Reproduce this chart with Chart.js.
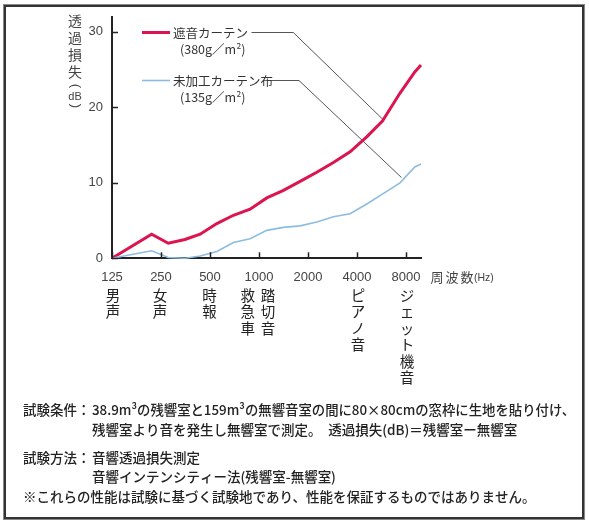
<!DOCTYPE html>
<html><head><meta charset="utf-8">
<script src="https://cdn.jsdelivr.net/npm/chart.js@4.4.1/dist/chart.umd.min.js"></script>
<style>html,body{margin:0;padding:0;background:#fff;}canvas{display:block;}</style>
</head><body>
<canvas id="c" width="589" height="526"></canvas>
<script>
// ---- data ----
const freqHz = [125, 219, 277, 351, 435, 551, 697, 882, 1117, 1414, 1790, 2266, 2867, 3630, 4595, 5737, 7360, 9071, 9900];
const soundproofCurtain = [0, 3.2, 2.0, 2.5, 3.2, 4.6, 5.7, 6.5, 8.0, 9.0, 10.2, 11.4, 12.7, 14.1, 16.1, 18.2, 21.9, 24.7, 25.6];
const plainFabric = [0, 1.0, 0.1, 0, 0.3, 0.9, 2.1, 2.6, 3.7, 4.1, 4.3, 4.8, 5.5, 5.9, 7.2, 8.5, 10.0, 12.1, 12.5];
const xTickValues = [125, 250, 500, 1000, 2000, 4000, 8000];
const yTickValues = [0, 10, 20, 30];
const seriesNames = ['遮音カーテン', '未加工カーテン布'];
const seriesSubNames = ['(380g／m²)', '(135g／m²)'];
const leaderTargetsHz = [5777, 7515];
const leaderTargetsDb = [18.4, 10.7];
const sourceFreqs = [125, 243, 490, 840, 1120, 4000, 8000];
const sourceLabels = ['男声', '女声', '時報', '救急車', '踏切音', 'ピアノ音', 'ジェット機音'];
const yTitleChars = ['透', '過', '損', '失'];
const xTitle = '周波数';
const xUnit = '(Hz)';
const noteLines = [
  ['試験条件：', '38.9m³の残響室と159m³の無響音室の間に80×80cmの窓枠に生地を貼り付け、'],
  ['', '残響室より音を発生し無響室で測定。　透過損失(dB)＝残響室ー無響室'],
  ['試験方法：', '音響透過損失測定'],
  ['', '音響インテンシティー法(残響室-無響室)'],
  ['※これらの性能は試験に基づく試験地であり、性能を保証するものではありません。', '']
];

const JP = '"Noto Sans CJK JP", sans-serif';
const RED = '#dc1450';
const BLUE = '#8cbde0';

const deco = {
  id: 'deco',
  beforeDraw(chart) {
    const ctx = chart.ctx;
    ctx.save();
    ctx.fillStyle = '#fff';
    ctx.fillRect(0, 0, chart.width, chart.height);
    ctx.restore();
  },
  beforeDatasetsDraw(chart) {
    const {ctx, scales: {x, y}} = chart;
    ctx.save();
    ctx.strokeStyle = '#555';
    ctx.lineWidth = 1;
    const starts = [[251.5, 293.3, 32.5], [268, 299, 80.5]];
    starts.forEach((s, i) => {
      ctx.beginPath();
      ctx.moveTo(s[0], s[2]);
      ctx.lineTo(s[1], s[2]);
      ctx.lineTo(x.getPixelForValue(leaderTargetsHz[i]), y.getPixelForValue(leaderTargetsDb[i]));
      ctx.stroke();
    });
    ctx.restore();
  },
  afterDraw(chart) {
    const {ctx, scales: {x, y}, chartArea: a} = chart;
    ctx.save();
    // inward tick marks
    ctx.strokeStyle = '#222';
    ctx.lineWidth = 1.5;
    xTickValues.forEach(v => {
      const px = Math.round(x.getPixelForValue(v)) + 0.5;
      ctx.beginPath(); ctx.moveTo(px, a.bottom); ctx.lineTo(px, a.bottom - 6); ctx.stroke();
    });
    yTickValues.forEach(v => {
      const py = Math.round(y.getPixelForValue(v)) + 0.5;
      ctx.beginPath(); ctx.moveTo(a.left, py); ctx.lineTo(a.left + 6, py); ctx.stroke();
    });

    // legend
    ctx.lineCap = 'butt';
    ctx.strokeStyle = RED; ctx.lineWidth = 3;
    ctx.beginPath(); ctx.moveTo(142, 32.5); ctx.lineTo(170, 32.5); ctx.stroke();
    ctx.strokeStyle = BLUE; ctx.lineWidth = 1.6;
    ctx.beginPath(); ctx.moveTo(142, 80.5); ctx.lineTo(170, 80.5); ctx.stroke();
    ctx.fillStyle = '#333';
    ctx.textBaseline = 'middle';
    ctx.textAlign = 'left';
    ctx.font = '12.5px ' + JP;
    ctx.fillText(seriesNames[0], 173, 33);
    ctx.fillText(seriesNames[1], 173, 81);
    ctx.fillText(seriesSubNames[0], 180, 49);
    ctx.fillText(seriesSubNames[1], 180, 97);

    // y title (vertical)
    ctx.fillStyle = '#444';
    ctx.textAlign = 'center';
    ctx.font = '14px ' + JP;
    yTitleChars.forEach((ch, i) => ctx.fillText(ch, 75, 21 + i * 17));
    const rotParen = (ch, cy) => {
      ctx.save();
      ctx.translate(76, cy);
      ctx.rotate(Math.PI / 2);
      ctx.font = '13px "Liberation Sans", sans-serif';
      ctx.fillText(ch, 0, 0);
      ctx.restore();
    };
    rotParen('(', 86);
    ctx.font = '11px "Liberation Sans", sans-serif';
    ctx.fillText('dB', 75, 96.5);
    rotParen(')', 106);

    // x title
    ctx.font = '13px ' + JP;
    ctx.textAlign = 'center';
    [...xTitle].forEach((ch, i) => ctx.fillText(ch, 437 + i * 15, 277));
    ctx.font = '10.5px "Liberation Sans", sans-serif';
    ctx.textAlign = 'left';
    ctx.fillText(xUnit, 474, 278);

    // sound source labels (vertical)
    ctx.fillStyle = '#222';
    ctx.textAlign = 'center';
    ctx.font = '14.5px ' + JP;
    sourceLabels.forEach((lab, i) => {
      const px = x.getPixelForValue(sourceFreqs[i]);
      [...lab].forEach((ch, j) => ctx.fillText(ch, px + 1, 295 + j * 16.5));
    });

    // notes
    ctx.textAlign = 'left';
    ctx.fillStyle = '#222';
    ctx.font = '500 13.5px ' + JP;
    const ys = [410, 430, 458, 477, 497];
    noteLines.forEach((ln, i) => {
      if (ln[0]) ctx.fillText(ln[0], 23, ys[i]);
      if (ln[1]) ctx.fillText(ln[1], 92, ys[i], 575 - 92);
    });

    // outer frame
    ctx.strokeStyle = '#888';
    ctx.lineWidth = 1;
    ctx.strokeRect(3.5, 4.5, 581, 515);
    ctx.strokeStyle = '#333';
    ctx.lineWidth = 2;
    ctx.strokeRect(5, 6, 578, 512);
    ctx.restore();
  }
};

function pts(vals) { return freqHz.map((f, i) => ({x: f, y: vals[i]})); }

new Chart(document.getElementById('c'), {
  type: 'line',
  data: {
    datasets: [
      {label: seriesNames[1], data: pts(plainFabric), borderColor: BLUE, borderWidth: 1.6, pointRadius: 0, tension: 0, clip: false},
      {label: seriesNames[0], data: pts(soundproofCurtain), borderColor: RED, borderWidth: 3, pointRadius: 0, tension: 0, clip: false}
    ]
  },
  options: {
    responsive: false,
    animation: false,
    devicePixelRatio: 1,
    layout: {padding: {left: 72, right: 167.3, top: 12.7, bottom: 237.7}},
    plugins: {legend: {display: false}, tooltip: {enabled: false}},
    scales: {
      x: {
        type: 'logarithmic', min: 125, max: 10000, bounds: 'data',
        afterBuildTicks: s => { s.ticks = xTickValues.map(v => ({value: v})); },
        afterFit: s => { s.height = 30; },
        grid: {display: true, drawOnChartArea: false, drawTicks: false},
        border: {display: true, color: '#222', width: 2},
        ticks: {autoSkip: false, maxRotation: 0, padding: 11, color: '#444',
          font: {family: 'Liberation Sans', size: 13}, callback: v => String(v)}
      },
      y: {
        type: 'linear', min: 0, max: 32, bounds: 'data',
        afterBuildTicks: s => { s.ticks = yTickValues.map(v => ({value: v})); },
        afterFit: s => { s.width = 40; },
        grid: {display: true, drawOnChartArea: false, drawTicks: false},
        border: {display: true, color: '#222', width: 2},
        ticks: {padding: 9, color: '#444', font: {family: 'Liberation Sans', size: 13}, callback: v => String(v)}
      }
    }
  },
  plugins: [deco]
});
</script>
</body></html>
